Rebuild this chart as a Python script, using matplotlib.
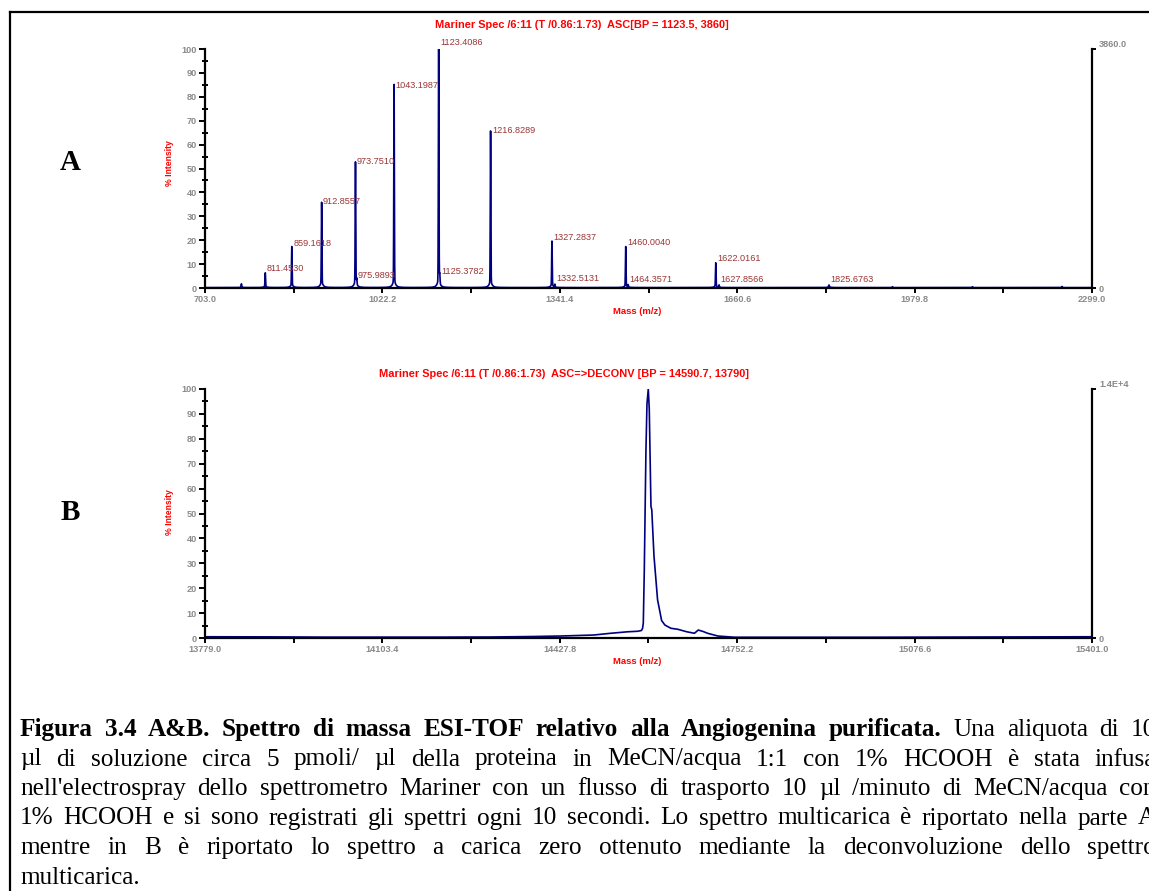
import numpy as np
import matplotlib.pyplot as plt
from matplotlib.lines import Line2D

W, H = 1149, 891
fig = plt.figure(figsize=(W / 100, H / 100), dpi=100)


def fx(px):
    return px / W


def fy(py):
    return 1 - py / H


SANS = 'Liberation Sans'
SERIF = 'Liberation Serif'
NAVY = '#000080'
GREY = '#8a8a8a'
RED = '#ff0000'
LBL = '#9b3535'

# ---- pannello A: spettro multicarica (m/z, % intensita')
peak_mz = [768.5, 811.4530, 859.1618, 912.8557, 973.7510, 975.9893, 1043.1987,
           1123.4086, 1125.3782, 1216.8289, 1327.2837, 1332.5131, 1460.0040,
           1464.3571, 1622.0161, 1627.8566, 1825.6763, 1940.0, 2084.0, 2245.0]
peak_int = [1.4, 5.6, 16.0, 33.5, 50.0, 2.5, 82.0, 100.0, 4.0, 63.0, 18.3, 1.2,
            16.2, 1.0, 9.6, 1.0, 0.8, 0.4, 0.4, 0.5]
base_int = [0.2, 0.6, 1.2, 2.2, 2.6, 0.0, 3.0, 3.2, 0.0, 2.6, 1.2, 0.0,
            1.0, 0.0, 0.8, 0.0, 0.3, 0.0, 0.0, 0.0]

label_mz = [811.4530, 859.1618, 912.8557, 973.7510, 975.9893, 1043.1987,
            1123.4086, 1125.3782, 1216.8289, 1327.2837, 1332.5131, 1460.0040,
            1464.3571, 1622.0161, 1627.8566, 1825.6763]
label_int = [5.6, 16.0, 33.5, 50.0, 2.5, 82.0, 100.0, 4.0, 63.0, 18.3, 1.2,
             16.2, 1.0, 9.6, 1.0, 0.8]

a_ticks = [703.0, 1022.2, 1341.4, 1660.6, 1979.8, 2299.0]

# ---- pannello B: spettro deconvoluto (massa, % intensita')
b_mass = [13779, 13900, 14000, 14100, 14200, 14300, 14380, 14430, 14490, 14521,
          14552, 14570, 14577, 14579.2, 14580.5, 14582.3, 14585.3, 14587.2,
          14589.6, 14591.4, 14594.5, 14596, 14600, 14606.6, 14614, 14620, 14631,
          14643.5, 14660, 14674, 14681, 14690, 14698, 14716.7, 14747, 14800,
          14900, 15000, 15100, 15200, 15300, 15401]
b_int = [0.5, 0.45, 0.35, 0.35, 0.35, 0.4, 0.6, 0.8, 1.2, 1.9, 2.5, 2.7, 3.0,
         3.9, 6.0, 27.0, 75.0, 94.0, 100.0, 92.0, 52.8, 51.5, 33.0, 15.3, 7.0,
         5.2, 3.9, 3.5, 2.5, 1.9, 3.2, 2.6, 1.9, 0.8, 0.3, 0.3, 0.3, 0.3, 0.35,
         0.4, 0.45, 0.5]
b_ticks = [13779.0, 14103.4, 14427.8, 14752.2, 15076.6, 15401.0]

title_a = 'Mariner Spec /6:11 (T /0.86:1.73)  ASC[BP = 1123.5, 3860]'
title_b = 'Mariner Spec /6:11 (T /0.86:1.73)  ASC=>DECONV [BP = 14590.7, 13790]'

caption_lines = [
    [('Figura 3.4 A&B. Spettro di massa ESI-TOF relativo alla Angiogenina purificata.', True),
     ('Una aliquota di 10', False)],
    [('µl di soluzione circa 5 pmoli/ µl della proteina in MeCN/acqua 1:1 con 1% HCOOH è stata infusa', False)],
    [("nell'electrospray dello spettrometro Mariner con un flusso di trasporto 10 µl /minuto di MeCN/acqua con", False)],
    [('1% HCOOH e si sono registrati gli spettri ogni 10 secondi. Lo spettro multicarica è riportato nella parte A', False)],
    [('mentre in B è riportato lo spettro a carica zero ottenuto mediante la deconvoluzione dello spettro', False)],
    [('multicarica.', False)],
]


def setup_axes(ax, ticks, top_label):
    ax.set_xlim(ticks[0], ticks[-1])
    ax.set_ylim(0, 100)
    ax.spines['top'].set_visible(False)
    ax.spines['right'].set_visible(False)
    for s in ['left', 'bottom']:
        ax.spines[s].set_linewidth(1.6)
    ax.set_yticks(range(0, 101, 10))
    ax.set_yticks(range(5, 100, 10), minor=True)
    ax.set_xticks(ticks)
    ax.set_xticklabels([f'{v:.1f}' for v in ticks])
    mids = [(ticks[i] + ticks[i + 1]) / 2 for i in range(len(ticks) - 1)]
    ax.set_xticks(mids, minor=True)
    ax.tick_params(axis='y', which='major', direction='out', length=4, width=1.4,
                   pad=2, labelsize=6.6, labelcolor=GREY)
    ax.tick_params(axis='y', which='minor', direction='inout', length=5, width=1.4)
    ax.tick_params(axis='x', which='both', direction='out', length=3.5, width=1.4,
                   pad=1.5, labelsize=6.6, labelcolor=GREY)
    for lab in ax.get_xticklabels() + ax.get_yticklabels():
        lab.set_fontweight('bold')
        lab.set_family(SANS)
    tw = ax.twinx()
    tw.set_ylim(0, 100)
    for s in ['left', 'bottom', 'top']:
        tw.spines[s].set_visible(False)
    tw.spines['right'].set_linewidth(1.6)
    tw.set_yticks([0, 100])
    tw.set_yticklabels(['0', top_label])
    tw.tick_params(axis='y', direction='out', length=3, width=1.4, pad=2,
                   labelsize=6.6, labelcolor=GREY)
    labs = tw.get_yticklabels()
    for lab in labs:
        lab.set_fontweight('bold')
        lab.set_family(SANS)
    labs[1].set_verticalalignment('bottom')
    ax.set_facecolor('none')


# ---- pannello A
axA = fig.add_axes([fx(205), fy(288), fx(887), 239 / H])
mz = np.arange(703.0, 2299.0, 0.05)
prof = np.full_like(mz, 0.15)
for p, h, b in zip(peak_mz, peak_int, base_int):
    prof += h * np.exp(-0.5 * ((mz - p) / 0.5) ** 2)
    prof += b / (1 + ((mz - p) / 2.8) ** 2)
axA.plot(mz, prof, color=NAVY, lw=1.2)
setup_axes(axA, a_ticks, '3860.0')
for m, h in zip(label_mz, label_int):
    axA.annotate(f'{m:.4f}', (m, h), xytext=(1, 1.5), textcoords='offset points',
                 ha='left', va='bottom', fontsize=6.6, color=LBL, family=SANS,
                 annotation_clip=False)

# ---- pannello B
axB = fig.add_axes([fx(205), fy(638), fx(887), 249 / H])
axB.plot(b_mass, b_int, color=NAVY, lw=1.2)
setup_axes(axB, b_ticks, '1.4E+4')

# titoli ed etichette assi
for cx, cy, t in [(582, 25, title_a), (564, 374, title_b)]:
    fig.text(fx(cx), fy(cy), t, ha='center', va='center', fontsize=7.9,
             fontweight='bold', color=RED, family=SANS)
for cy in [311, 661]:
    fig.text(fx(637), fy(cy), 'Mass (m/z)', ha='center', va='center',
             fontsize=6.8, fontweight='bold', color=RED, family=SANS)
for cy in [163, 512]:
    fig.text(fx(170), fy(cy), '% Intensity', ha='center', va='center',
             rotation=90, fontsize=6.2, fontweight='bold', color=RED, family=SANS)
for cy, t in [(162, 'A'), (512, 'B')]:
    fig.text(fx(70), fy(cy), t, ha='center', va='center', fontsize=21,
             fontweight='bold', family=SERIF)

# cornice
fig.add_artist(Line2D([fx(10), fx(10)], [fy(12), 0], color='black', lw=1.6))
fig.add_artist(Line2D([fx(10), 1], [fy(12), fy(12)], color='black', lw=1.6))

# didascalia giustificata
renderer = fig.canvas.get_renderer()
left_px, right_px = 20, 1156
base0, dy = 736, 29.5


def words_of(runs):
    out = []
    for txt, bold in runs:
        out += [(w, bold) for w in txt.split(' ') if w]
    return out


# dimensione del carattere scelta perche' la riga piu' piena occupi la larghezza
fs0 = 10
natural = []
for runs in caption_lines[:-1]:
    ws = words_of(runs)
    tot = 0
    for w, b in ws:
        t = fig.text(0, 0, w, fontsize=fs0, family=SERIF,
                     fontweight='bold' if b else 'normal')
        tot += t.get_window_extent(renderer).width
        t.remove()
    tot += (len(ws) - 1) * fs0 * 100 / 72 * 0.25
    natural.append(tot)
fs = 0.95 * fs0 * (right_px - left_px - 8) / max(natural)

for i, runs in enumerate(caption_lines):
    words = words_of(runs)
    yb = fy(base0 + i * dy)
    arts = [fig.text(0, yb, w, fontsize=fs, family=SERIF, va='baseline',
                     fontweight='bold' if b else 'normal') for w, b in words]
    widths = [a.get_window_extent(renderer).width for a in arts]
    if i < len(caption_lines) - 1 and len(words) > 1:
        gap = (right_px - left_px - sum(widths)) / (len(words) - 1)
    else:
        gap = fs * 100 / 72 * 0.25
    x = left_px
    for a, w in zip(arts, widths):
        a.set_x(fx(x))
        x += w + gap

fig.savefig('out.png', dpi=100)
